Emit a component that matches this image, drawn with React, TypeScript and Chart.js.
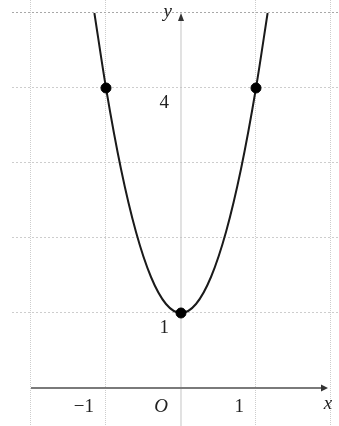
import React, { useEffect, useRef } from "react";
import { Chart, registerables } from "chart.js";

Chart.register(...registerables);

// Parabola samples (x, y)
const curveX = [-1.155, -1, -0.8, -0.6, -0.4, -0.2, 0, 0.2, 0.4, 0.6, 0.8, 1, 1.155];
const curveY = [5, 4, 2.92, 2.08, 1.48, 1.12, 1, 1.12, 1.48, 2.08, 2.92, 4, 5];

// Highlighted points on the curve
const markX = [-1, 0, 1];
const markY = [4, 1, 4];

// Axis tick labels
const xTickValues = [-1, 1];
const xTickLabels = ["\u22121", "1"];
const yTickValues = [1, 4];
const yTickLabels = ["1", "4"];

// Visible window
const X_MIN = -2.2533;
const X_MAX = 2.1067;
const Y_MIN = -0.5067;
const Y_MAX = 5.1733;
const Y_AXIS_TOP = 5;
const X_AXIS_LEFT = -2;

const FONT = '"Liberation Serif", "DejaVu Serif", serif';

const axesPlugin = {
  id: "mathAxes",
  beforeDatasetsDraw(chart: any) {
    const { ctx, scales, chartArea } = chart;
    const xs = scales.x;
    const ys = scales.y;
    const x0 = xs.getPixelForValue(0);
    const y0 = ys.getPixelForValue(0);
    const yTop = ys.getPixelForValue(Y_AXIS_TOP);
    const xLeft = xs.getPixelForValue(X_AXIS_LEFT);
    const xRight = chartArea.right - 11;

    ctx.save();
    // y axis (light)
    ctx.strokeStyle = "#c4c4c4";
    ctx.lineWidth = 1;
    ctx.beginPath();
    ctx.moveTo(x0, chartArea.bottom);
    ctx.lineTo(x0, yTop + 4);
    ctx.stroke();

    // x axis (dark)
    ctx.strokeStyle = "#7a7a7a";
    ctx.lineWidth = 2;
    ctx.beginPath();
    ctx.moveTo(xLeft, y0);
    ctx.lineTo(xRight - 4, y0);
    ctx.stroke();

    // arrowheads
    ctx.fillStyle = "#333";
    ctx.beginPath();
    ctx.moveTo(xRight, y0);
    ctx.lineTo(xRight - 7, y0 - 3.5);
    ctx.lineTo(xRight - 7, y0 + 3.5);
    ctx.closePath();
    ctx.fill();

    ctx.beginPath();
    ctx.moveTo(x0, yTop);
    ctx.lineTo(x0 - 3, yTop + 8);
    ctx.lineTo(x0 + 3, yTop + 8);
    ctx.closePath();
    ctx.fill();

    // labels
    ctx.fillStyle = "#222";
    ctx.textBaseline = "middle";
    ctx.textAlign = "right";
    ctx.font = `19px ${FONT}`;
    xTickValues.forEach((v, i) => {
      ctx.fillText(xTickLabels[i], xs.getPixelForValue(v) - 12, y0 + 19);
    });
    yTickValues.forEach((v, i) => {
      ctx.fillText(yTickLabels[i], x0 - 12, ys.getPixelForValue(v) + 15);
    });

    ctx.font = `italic 19px ${FONT}`;
    ctx.fillText("O", x0 - 13, y0 + 19);
    ctx.fillText("y", x0 - 9, yTop - 1);
    ctx.textAlign = "center";
    ctx.fillText("x", xRight, y0 + 16);
    ctx.restore();
  },
};

export default function App() {
  const canvasRef = useRef<HTMLCanvasElement | null>(null);

  useEffect(() => {
    const canvas = canvasRef.current;
    if (!canvas) return;

    const curve = curveX.map((x, i) => ({ x, y: curveY[i] }));
    const marks = markX.map((x, i) => ({ x, y: markY[i] }));

    const gridColor = (ctx: any) => {
      const v = ctx.tick ? ctx.tick.value : NaN;
      if (v === 0) return "rgba(0,0,0,0)";
      return "#cdcdcd";
    };
    const yGridColor = (ctx: any) => {
      const v = ctx.tick ? ctx.tick.value : NaN;
      if (v === 0) return "rgba(0,0,0,0)";
      if (v === 5) return "#a8a8a8";
      return "#cdcdcd";
    };

    const chart = new Chart(canvas, {
      type: "scatter",
      data: {
        datasets: [
          {
            type: "line",
            data: curve,
            borderColor: "#1a1a1a",
            borderWidth: 2,
            pointRadius: 0,
            fill: false,
            cubicInterpolationMode: "monotone",
            clip: false,
            order: 2,
          } as any,
          {
            data: marks,
            backgroundColor: "#000",
            borderColor: "#000",
            pointRadius: 5,
            order: 1,
          },
        ],
      },
      options: {
        responsive: false,
        animation: false,
        layout: { autoPadding: false, padding: { left: 12, right: 0, top: 0, bottom: 0 } } as any,
        plugins: {
          legend: { display: false },
          tooltip: { enabled: false },
        },
        scales: {
          x: {
            type: "linear",
            min: X_MIN,
            max: X_MAX,
            ticks: { display: false, stepSize: 1, includeBounds: false } as any,
            grid: { color: gridColor, lineWidth: 1, drawTicks: false },
            border: { display: false, dash: [1, 1] },
          },
          y: {
            type: "linear",
            min: Y_MIN,
            max: Y_MAX,
            ticks: { display: false, stepSize: 1, includeBounds: false } as any,
            grid: { color: yGridColor, lineWidth: 1, drawTicks: false },
            border: { display: false, dash: [2, 2] },
          },
        },
      },
      plugins: [axesPlugin],
    });

    return () => chart.destroy();
  }, []);

  return (
    <div style={{ position: "absolute", left: 0, top: 0, width: 339, height: 426, background: "#fff" }}>
      <canvas ref={canvasRef} width={339} height={426} />
    </div>
  );
}
